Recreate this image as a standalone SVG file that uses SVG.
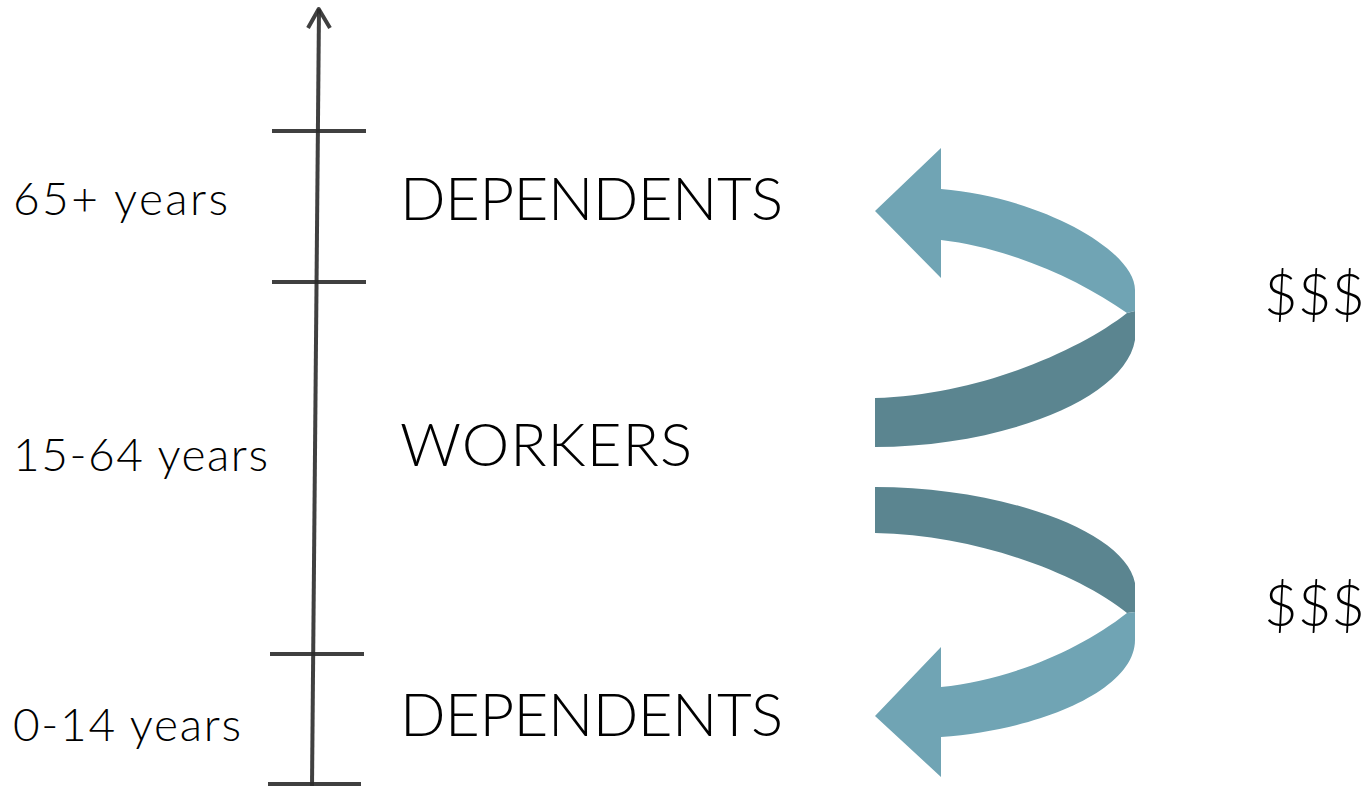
<svg xmlns="http://www.w3.org/2000/svg" width="1370" height="786" viewBox="0 0 1370 786">
  <style>
    .axis { stroke: #2b2b2b; stroke-opacity: 0.9; stroke-width: 4; fill: none; stroke-linecap: butt; }
    .age { font-family: Lato, "Liberation Sans", sans-serif; font-weight: 300; font-size: 46px; fill: #000; }
    .grp { font-family: Lato, "Liberation Sans", sans-serif; font-weight: 300; font-size: 60px; fill: #000; }
    .money { font-family: Lato, "Liberation Sans", sans-serif; font-weight: 300; font-size: 58px; fill: #000; }
    .light { fill: #70a4b4; }
    .dark { fill: #5b8590; }
  </style>
  <rect width="1370" height="786" fill="#ffffff"/>

  <g id="axis">
    <line class="axis" x1="319" y1="9" x2="312" y2="786"/>
    <polyline class="axis" points="308,28 318.7,9 330,28" stroke-linecap="round" stroke-linejoin="round"/>
    <line class="axis" x1="272" y1="131" x2="366" y2="131"/>
    <line class="axis" x1="272" y1="282" x2="366" y2="282"/>
    <line class="axis" x1="270" y1="654" x2="364" y2="654"/>
    <line class="axis" x1="268" y1="784" x2="361" y2="784"/>
  </g>

  <g id="age-labels">
    <text class="age" x="13" y="215" textLength="215" lengthAdjust="spacing">65+ years</text>
    <text class="age" x="13" y="471" textLength="255" lengthAdjust="spacing">15-64 years</text>
    <text class="age" x="13" y="741" textLength="228" lengthAdjust="spacing">0-14 years</text>
  </g>

  <g id="node-dependents-old">
    <text class="grp" x="400" y="220" textLength="383" lengthAdjust="spacing">DEPENDENTS</text>
  </g>
  <g id="node-workers">
    <text class="grp" x="400" y="466" textLength="292" lengthAdjust="spacing">WORKERS</text>
  </g>
  <g id="node-dependents-young">
    <text class="grp" x="400" y="736" textLength="383" lengthAdjust="spacing">DEPENDENTS</text>
  </g>

  <g id="connectors">
    <g id="arrow-to-old">
      <path class="dark" d="M 1127 313 C 1080 350 980 395 875 398 L 875 447 C 1000 447 1125 400 1135 340 L 1135 311 Z"/>
      <path class="light" d="M 941 189 C 1040 197 1135 250 1135 290 L 1135 311 L 1127 313 C 1080 280 1010 248 941 240 L 941 278 L 875 211 L 941 148 Z"/>
    </g>
    <g id="arrow-to-young">
      <path class="dark" d="M 875 487 C 1000 487 1125 530 1135 583 L 1135 612 L 1127 613 C 1080 575 980 535 875 533 Z"/>
      <path class="light" d="M 1127 613 C 1080 650 1010 680 941 687 L 941 647 L 875 716 L 941 777 L 941 737 C 1040 730 1135 690 1135 640 L 1135 612 Z"/>
    </g>
  </g>

  <g id="money-labels">
    <text class="money" x="1264" y="315">$$$</text>
    <text class="money" x="1264" y="626">$$$</text>
  </g>
</svg>
